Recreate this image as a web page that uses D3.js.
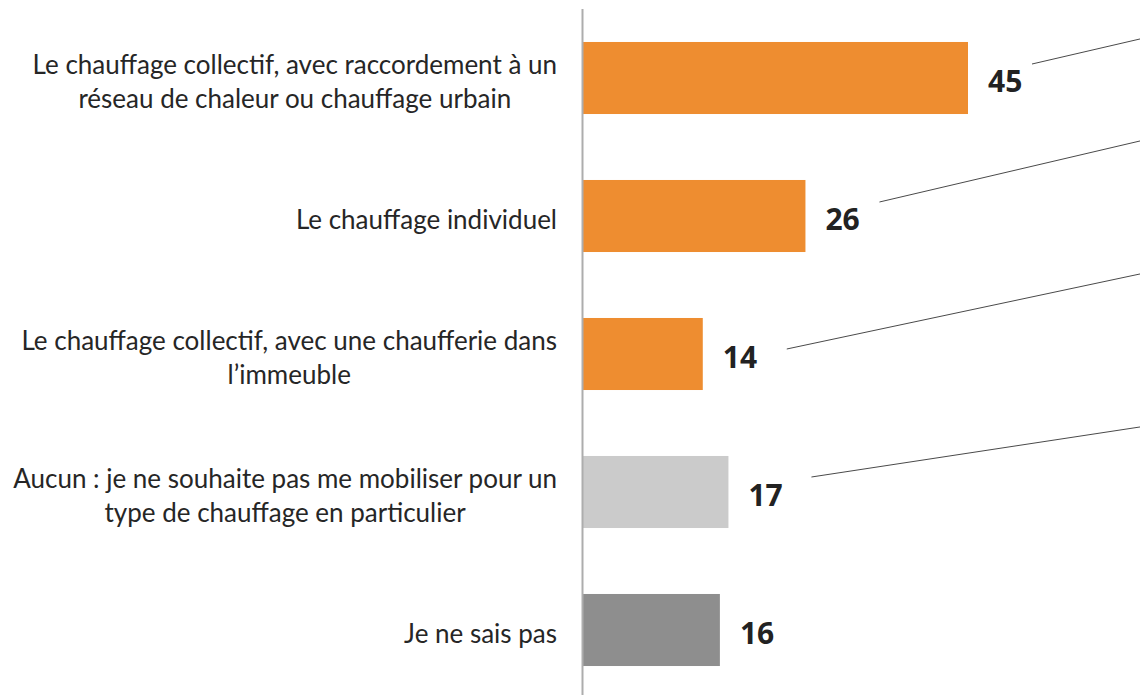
<!DOCTYPE html>
<html><head><meta charset="utf-8">
<script src="https://cdn.jsdelivr.net/npm/d3@7"></script>
<style>html,body{margin:0;padding:0;background:#fff;}svg{display:block;}</style>
</head><body>
<svg id="chart" width="1140" height="695"></svg>
<script>
const categories = [
  ["Le chauffage collectif, avec raccordement à un", "réseau de chaleur ou chauffage urbain"],
  ["Le chauffage individuel"],
  ["Le chauffage collectif, avec une chaufferie dans", "l\u2019immeuble"],
  ["Aucun : je ne souhaite pas me mobiliser pour un", "type de chauffage en particulier"],
  ["Je ne sais pas"]
];
const values = [45, 26, 14, 17, 16];
const colors = ["#EE8D30", "#EE8D30", "#EE8D30", "#CBCBCB", "#8E8E8E"];
// leader lines (annotation layout): start x offset from bar end, start dy from bar centre, end dy from bar top
const leaderStartDx = [64, 74, 84, 83];
const leaderStartDy = [-14, -14, -5, -15];
const leaderEndDy = [-3, -39, -44, -29];

const W = 1140, H = 695;
const svg = d3.select("#chart");
const ids = d3.range(values.length);
const y = d3.scaleBand().domain(ids).range([9, 699]).paddingInner(0.478).paddingOuter(0.239);
const x = d3.scaleLinear().domain([0, 45]).range([583, 968]);

svg.selectAll("rect.bar").data(ids).join("rect").attr("class", "bar")
  .attr("x", x(0)).attr("y", i => y(i)).attr("width", i => x(values[i]) - x(0))
  .attr("height", y.bandwidth()).attr("fill", i => colors[i]);

svg.append("line").attr("x1", 582.5).attr("x2", 582.5).attr("y1", 9).attr("y2", H)
  .attr("stroke", "#ADADAD").attr("stroke-width", 2);

// category labels
const fontLab = "Lato, 'Open Sans', sans-serif";
const rightEdge = 557;
ids.forEach(i => {
  const lines = categories[i];
  const g = svg.append("g");
  const texts = lines.map((l, k) => g.append("text").text(l)
    .attr("font-family", fontLab).attr("font-size", 26).attr("fill", "#262626")
    .attr("text-anchor", "middle"));
  const maxW = d3.max(texts, t => t.node().getComputedTextLength());
  const cx = rightEdge - maxW / 2;
  const lh = 33.5;
  const cy = y(i) + y.bandwidth() / 2 + 4;
  texts.forEach((t, k) => {
    t.attr("x", cx).attr("y", cy + (k - (lines.length - 1) / 2) * lh).attr("dy", "0.35em");
  });
});

// value labels
svg.selectAll("text.val").data(ids).join("text").attr("class", "val")
  .attr("x", i => x(values[i]) + 20).attr("y", i => y(i) + y.bandwidth() / 2 + 14)
  .attr("font-family", "'Open Sans', sans-serif").attr("font-weight", "bold")
  .attr("font-size", 30).attr("fill", "#222").text(i => values[i]);

// leader lines
svg.selectAll("line.lead").data(d3.range(leaderStartDx.length)).join("line").attr("class", "lead")
  .attr("x1", i => x(values[i]) + leaderStartDx[i])
  .attr("y1", i => y(i) + y.bandwidth() / 2 + leaderStartDy[i])
  .attr("x2", W).attr("y2", i => y(i) + leaderEndDy[i])
  .attr("stroke", "#4a4a4a").attr("stroke-width", 1);
</script>
</body></html>
